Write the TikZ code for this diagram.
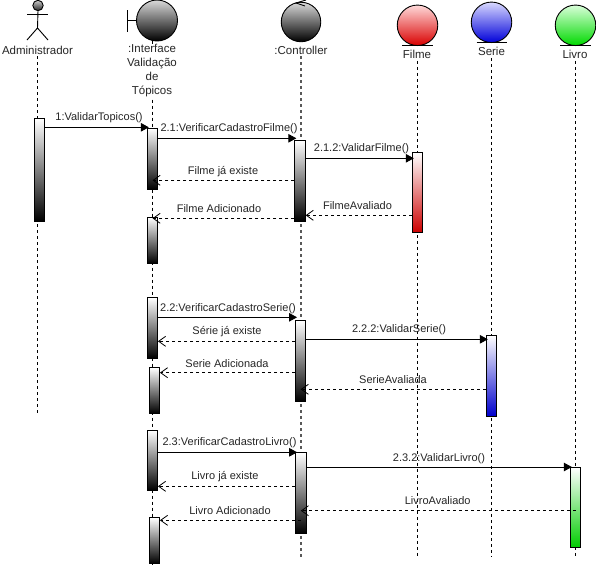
\documentclass[tikz,border=0pt]{standalone}
\usepackage{fontspec}
\setmainfont{Liberation Sans}
\usetikzlibrary{arrows.meta}
\tikzset{
  every node/.style={font=\fontsize{11}{13}\selectfont,text=black!85},
  life/.style={draw=black,line width=0.9pt,dash pattern=on 3pt off 3pt},
  bar/.style={draw=black,line width=0.9pt,rectangle,minimum width=10.4pt,inner sep=0pt,anchor=north,top color=white,bottom color=#1},
  bar/.default=black,
  head/.style={draw=black,line width=0.9pt,circle,inner sep=0pt,minimum size=40.5pt,top color=#1!15!white,bottom color=#1!85!black},
  grayhead/.style={draw=black,line width=0.9pt,circle,inner sep=0pt,minimum size=#1,top color=black!15,bottom color=black},
  grayhead/.default=41pt,
  call/.style={draw=black,line width=0.9pt,shorten >=-2pt,-{Triangle[length=8pt,width=8.5pt]}},
  ret/.style={draw=black,line width=0.9pt,dash pattern=on 3pt off 3pt,-{Straight Barb[length=7pt,width=10pt,line width=0.8pt]}},
  lbl/.style={inner sep=0pt,anchor=center},
  namelbl/.style={inner sep=0pt,anchor=center,font=\fontsize{11.5}{14}\selectfont},
  stick/.style={draw=black,line width=0.9pt},
}
\newcommand{\barnode}[5][black]{\node[bar=#1,minimum height=#5pt] (#2) at (#3,#4) {};}
\begin{document}
\begin{tikzpicture}[x=1pt,y=-1pt]
\useasboundingbox (0,0) rectangle (596,568);
\fill[white] (0,0) rectangle (596,568);
% heads
\node[grayhead=39.5pt] (ctlh) at (301,22) {};
\node[grayhead] (ifh) at (157,20.5) {};
\node[head=red] (filmeh) at (417.5,25.3) {};
\node[head=blue] (serieh) at (491.5,22.3) {};
\node[head=green] (livroh) at (575.5,25.3) {};
\node[draw=black,line width=0.9pt,circle,inner sep=0pt,minimum size=10.4pt,top color=black!20,bottom color=black!85] (adminh) at (38,5.5) {};
% labels
\node[namelbl] (adminl) at (37.5,50) {Administrador};
\node[namelbl,align=center] (ifl) at (152,71) {:Interface\\Validação\\de\\Tópicos};
\node[namelbl] (ctll) at (301,50) {:Controller};
\node[namelbl] (filmel) at (417,54.5) {Filme};
\node[namelbl] (seriel) at (491.5,51.5) {Serie};
\node[namelbl] (livrol) at (575,54.5) {Livro};
% stick figure
\coordinate (hip) at (37.5,28);
\coordinate (armL) at (27,14);
\coordinate (armR) at (48,14);
\coordinate (footL) at (27,40);
\coordinate (footR) at (48,40);
\draw[stick] (adminh) ++(0,5.2) -- (hip);
\draw[stick] (armL) -- (armR);
\draw[stick] (footL) -- (hip) -- (footR);
% boundary symbol
\coordinate (ifbarT) at (127,10);
\coordinate (ifbarB) at (127,32);
\coordinate (ifbarM) at (127,20.5);
\draw[stick] (ifbarT) -- (ifbarB);
\draw[stick] (ifbarM) -- (ifh.west);
% entity bases
\draw[stick] (402,45.3) -- (432.5,45.3);
\draw[stick] (476.5,42.5) -- (507,42.5);
\draw[stick] (560,45.3) -- (590.5,45.3);
% control arrow
\coordinate (ctlA) at (296,3);
\coordinate (ctlB) at (306,0);
\coordinate (ctlC) at (305,6);
\draw[stick] (ctlB) -- (ctlA) -- (ctlC);
% lifelines
\coordinate (adminE) at (37.5,415);
\coordinate (ifE) at (152,565);
\coordinate (ctlE) at (301,558);
\coordinate (filmeE) at (417,558);
\coordinate (serieE) at (491.5,556);
\coordinate (livroE) at (575,558);
\draw[life] (adminl.south) ++(0,2) -- (adminE);
\draw[life] (ifl.south) ++(0,2) -- (ifE);
\draw[life] (152,41) -- (ifl.north);
\draw[life,draw=black!65,line width=1.2pt] (ctll.south) ++(0,2) -- (ctlE);
\draw[life] (filmel.south) ++(0,2) -- (filmeE);
\draw[life] (seriel.south) ++(0,2) -- (serieE);
\draw[life] (livrol.south) ++(0,2) -- (livroE);
% activation bars
\barnode{a1}{39.7}{118}{102.7}
\barnode{i1}{152.5}{128}{60.7}
\barnode{i2}{152.5}{217}{45.7}
\barnode{c1}{300}{140}{80.7}
\barnode[red!80!black]{f1}{417.5}{152.3}{80}
\barnode{i3}{152.3}{297.3}{60.4}
\barnode{i4}{154.3}{367.3}{45.4}
\barnode{c2}{300.7}{320}{80.7}
\barnode[blue!80!black]{s1}{491.5}{335}{80.7}
\barnode{i5}{152.3}{430}{59.7}
\barnode{i6}{154.3}{517.3}{45.4}
\barnode{c3}{300.8}{452.3}{80.4}
\barnode[green!80!black]{l1}{575.5}{467}{80.3}
% calls
\draw[call] (a1.east |- 0,127.3) -- (i1.west |- 0,127.3);
\node[lbl] (m1) at (99,118) {1:ValidarTopicos()};
\draw[call] (i1.east |- 0,138.3) -- (c1.west |- 0,138.3);
\node[lbl] (m21) at (229,129) {2.1:VerificarCadastroFilme()};
\draw[call] (c1.east |- 0,158.3) -- (f1.west |- 0,158.3);
\node[lbl] (m212) at (361.5,149) {2.1.2:ValidarFilme()};
\draw[call] (i3.east |- 0,317.3) -- (c2.west |- 0,317.3);
\node[lbl] (m22) at (228,309) {2.2:VerificarCadastroSerie()};
\draw[call] (c2.east |- 0,339.3) -- (s1.west |- 0,339.3);
\node[lbl] (m222) at (399,330) {2.2.2:ValidarSerie()};
\draw[call] (i5.east |- 0,452.3) -- (c3.west |- 0,452.3);
\node[lbl] (m23) at (229.5,443) {2.3:VerificarCadastroLivro()};
\draw[call] (c3.east |- 0,467) -- (l1.west |- 0,467);
\node[lbl] (m232) at (439,458.5) {2.3.2:ValidarLivro()};
% returns
\draw[ret] (c1.west |- 0,180.3) -- (i1.center |- 0,180.3);
\node[lbl] (r1) at (223,171.5) {Filme já existe};
\draw[ret] (c1.west |- 0,218.3) -- (i2.center |- 0,218.3);
\node[lbl] (r2) at (219,209) {Filme Adicionado};
\draw[ret] (f1.west |- 0,215.3) -- (c1.east |- 0,215.3);
\node[lbl] (r3) at (357.5,206) {FilmeAvaliado};
\draw[ret] (c2.west |- 0,341.3) -- (i3.east |- 0,341.3);
\node[lbl] (r4) at (227,332) {Série já existe};
\draw[ret] (c2.west |- 0,372.7) -- (i4.east |- 0,372.7);
\node[lbl] (r5) at (227,364) {Serie Adicionada};
\draw[ret] (s1.west |- 0,389.3) -- (c2.center |- 0,389.3);
\node[lbl] (r6) at (393,380) {SerieAvaliada};
\draw[ret] (c3.west |- 0,486.3) -- (i5.east |- 0,486.3);
\node[lbl] (r7) at (225,477) {Livro já existe};
\draw[ret] (c3.center |- 0,520.3) -- (i6.east |- 0,520.3);
\node[lbl] (r8) at (230,511) {Livro Adicionado};
\draw[ret] (l1.center |- 0,510.7) -- (c3.center |- 0,510.7);
\node[lbl] (r9) at (437.7,501) {LivroAvaliado};
\end{tikzpicture}
\end{document}
